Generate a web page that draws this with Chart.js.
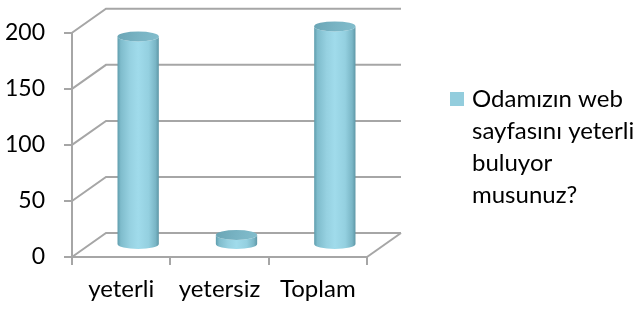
<!DOCTYPE html>
<html>
<head>
<meta charset="utf-8">
<script src="https://cdn.jsdelivr.net/npm/chart.js@4"></script>
<style>
  html, body { margin: 0; padding: 0; background: #fff; }
  #wrap { width: 641px; height: 314px; }
</style>
</head>
<body>
<div id="wrap"><canvas id="chart" width="641" height="314"></canvas></div>
<script>
// chart data
const categories = ["yeterli", "yetersiz", "Toplam"];
const values = [186, 9, 195];
const yTicks = [0, 50, 100, 150, 200];
const seriesLabel = "Odamızın web sayfasını yeterli buluyor musunuz?";
const legendLines = ["Odamızın web", "sayfasını yeterli", "buluyor", "musunuz?"];

// 3D depth of the plot box (back wall offset)
const depthX = 34;
const depthY = -24;
const gridColor = "#a6a6a6";
const legendColor = "#93cddd";

// walls + gridlines of the 3D box, drawn before the bars
const wallsPlugin = {
  id: "walls",
  beforeDatasetsDraw(chart) {
    const ctx = chart.ctx;
    const area = chart.chartArea;
    const yScale = chart.scales.y;
    ctx.save();
    ctx.strokeStyle = gridColor;
    ctx.lineWidth = 2;
    yTicks.forEach((v) => {
      const y = yScale.getPixelForValue(v);
      ctx.beginPath();
      // side wall diagonal
      ctx.moveTo(area.left, y);
      ctx.lineTo(area.left + depthX, y + depthY);
      // back wall horizontal
      ctx.lineTo(area.right + depthX, y + depthY);
      ctx.stroke();
    });
    // floor right edge
    ctx.beginPath();
    ctx.moveTo(area.right, area.bottom);
    ctx.lineTo(area.right + depthX, area.bottom + depthY);
    ctx.stroke();
    ctx.restore();
  },
};

// cylinders drawn at mid depth from the bar elements
const cylinderPlugin = {
  id: "cylinders",
  afterDatasetsDraw(chart) {
    const ctx = chart.ctx;
    const meta = chart.getDatasetMeta(0);
    ctx.save();
    meta.data.forEach((bar) => {
      const cx = bar.x + depthX / 2;
      const top = bar.y + depthY / 2;
      const base = bar.base + depthY / 2;
      const rx = bar.width / 2;
      const ry = 5;

      const body = ctx.createLinearGradient(cx - rx, 0, cx + rx, 0);
      body.addColorStop(0, "#5f9dad");
      body.addColorStop(0.08, "#7fbccc");
      body.addColorStop(0.3, "#96d1e1");
      body.addColorStop(0.5, "#a0dbeb");
      body.addColorStop(0.75, "#94d0e0");
      body.addColorStop(0.92, "#7ab6c6");
      body.addColorStop(1, "#5e97a6");

      ctx.beginPath();
      ctx.moveTo(cx - rx, top);
      ctx.lineTo(cx - rx, base);
      ctx.ellipse(cx, base, rx, ry, 0, Math.PI, 0, true);
      ctx.lineTo(cx + rx, top);
      ctx.ellipse(cx, top, rx, ry, 0, 0, Math.PI, false);
      ctx.closePath();
      ctx.fillStyle = body;
      ctx.fill();

      // top cap
      const cap = ctx.createLinearGradient(cx - rx, top - ry, cx + rx, top + ry);
      cap.addColorStop(0, "#6aa5b5");
      cap.addColorStop(0.5, "#78b3c3");
      cap.addColorStop(1, "#82bdcc");
      ctx.beginPath();
      ctx.ellipse(cx, top, rx, ry, 0, 0, Math.PI * 2);
      ctx.fillStyle = cap;
      ctx.fill();
    });
    ctx.restore();
  },
};

// legend on the right, with the wrapped series label
const legendPlugin = {
  id: "sideLegend",
  afterDraw(chart) {
    const ctx = chart.ctx;
    ctx.save();
    ctx.fillStyle = legendColor;
    ctx.fillRect(450, 92, 14, 14);
    ctx.fillStyle = "#000";
    ctx.font = "24px Lato";
    ctx.textBaseline = "alphabetic";
    ctx.textAlign = "left";
    legendLines.forEach((line, i) => {
      ctx.fillText(line, 472, 107 + i * 32);
    });
    ctx.restore();
  },
};

const ctx = document.getElementById("chart").getContext("2d");

const chart = new Chart(ctx, {
  type: "bar",
  data: {
    labels: categories,
    datasets: [
      {
        label: seriesLabel,
        data: values,
        backgroundColor: "rgba(0, 0, 0, 0)", // cylinders are drawn by the plugin
        borderWidth: 0,
        categoryPercentage: 1,
        barPercentage: 0.42,
      },
    ],
  },
  options: {
    responsive: false,
    animation: false,
    layout: {
      padding: { left: 0, top: 28, right: 274, bottom: 0 },
    },
    plugins: {
      legend: { display: false },
      tooltip: { enabled: false },
    },
    scales: {
      x: {
        afterFit(scale) {
          scale.height = 57;
        },
        grid: {
          display: true,
          offset: true,
          drawOnChartArea: false,
          drawTicks: true,
          tickLength: 8,
          color: gridColor,
          lineWidth: 2,
        },
        border: { display: true, color: gridColor, width: 2 },
        ticks: {
          color: "#000",
          padding: 10,
          font: { family: "Lato", size: 24 },
        },
      },
      y: {
        min: 0,
        max: 200,
        afterFit(scale) {
          scale.width = 72;
        },
        grid: {
          display: true,
          drawOnChartArea: false,
          drawTicks: true,
          tickLength: 8,
          color: gridColor,
          lineWidth: 2,
        },
        border: { display: true, color: gridColor, width: 2 },
        ticks: {
          stepSize: 50,
          color: "#000",
          padding: 19,
          font: { family: "Lato", size: 23 },
        },
      },
    },
  },
  plugins: [wallsPlugin, cylinderPlugin, legendPlugin],
});
</script>
</body>
</html>
